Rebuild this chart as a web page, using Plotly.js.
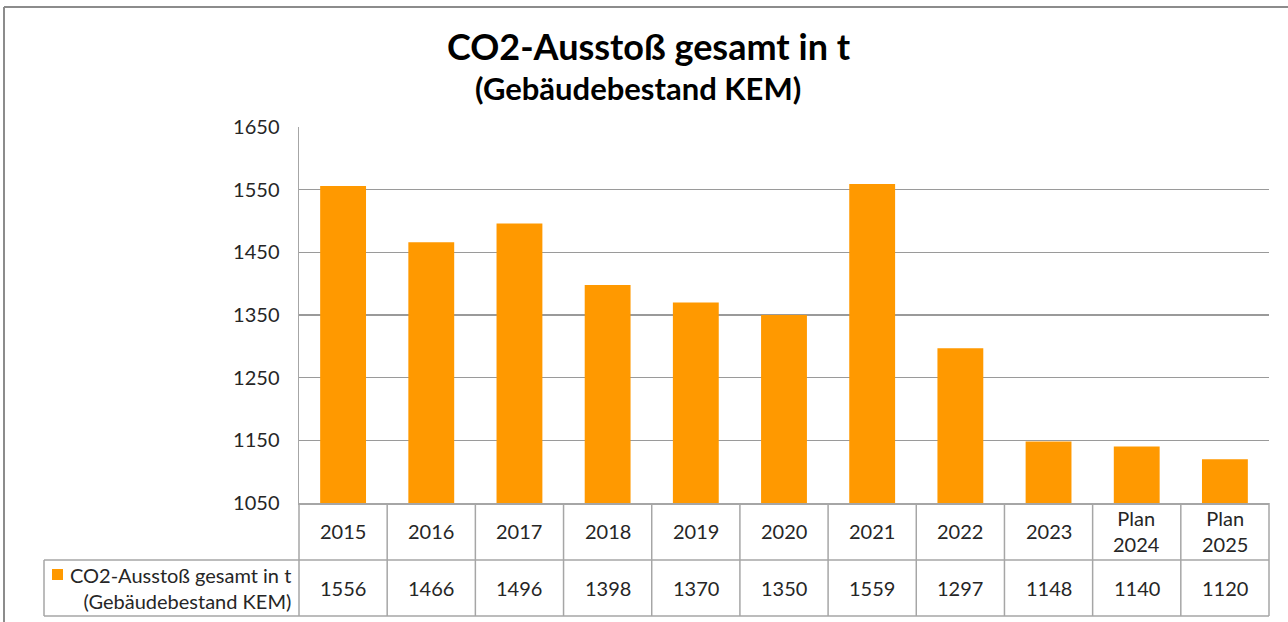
<!DOCTYPE html>
<html>
<head>
<meta charset="utf-8">
<script src="https://cdn.plot.ly/plotly-3.0.1.min.js"></script>
<style>
  html, body { margin: 0; padding: 0; background: #ffffff; }
  #chart { width: 1288px; height: 622px; }
  .plot .bars .point path { filter: drop-shadow(3px 2px 2px rgba(0,0,0,0.28)); }
</style>
</head>
<body>
<div id="chart"></div>
<script>
// ---- data ----
const categories = ['2015', '2016', '2017', '2018', '2019', '2020', '2021', '2022', '2023', 'Plan 2024', 'Plan 2025'];
const headerLabels = ['2015', '2016', '2017', '2018', '2019', '2020', '2021', '2022', '2023', 'Plan<br>2024', 'Plan<br>2025'];
const co2Values = [1556, 1466, 1496, 1398, 1370, 1350, 1559, 1297, 1148, 1140, 1120];
const seriesName = 'CO2-Ausstoß gesamt in t<br>(Gebäudebestand KEM)';
const chartTitle = 'CO2-Ausstoß gesamt in t';
const chartSubtitle = '(Gebäudebestand KEM)';
const yTicks = [1050, 1150, 1250, 1350, 1450, 1550, 1650];

// ---- layout helpers (pixel geometry of the page) ----
const W = 1288, H = 622;
const L = 299, R = 1269, T = 127, B = 503;
const pw = R - L, ph = B - T;
const px = v => (v - L) / pw;          // page x -> paper x
const py = v => (B - v) / ph;          // page y -> paper y

const orange = '#FF9900';
const gridCol = '#9a9a9a';
const tableCol = '#a6a6a6';
const textCol = '#262626';
const font = 'Lato, "Open Sans", sans-serif';

const rowMid = py(560), rowBot = py(616), legendLeft = px(44);
const nCat = categories.length;

const shapes = [];
// table vertical lines at column boundaries
for (let i = 0; i <= nCat; i++) {
  const xp = i / nCat;
  shapes.push({type: 'line', xref: 'paper', yref: 'paper', x0: xp, x1: xp, y0: 0, y1: rowBot,
    line: {color: tableCol, width: 1.5}});
}
// horizontal table lines
shapes.push({type: 'line', xref: 'paper', yref: 'paper', x0: legendLeft, x1: 1, y0: rowMid, y1: rowMid, line: {color: tableCol, width: 1.5}});
shapes.push({type: 'line', xref: 'paper', yref: 'paper', x0: legendLeft, x1: 1, y0: rowBot, y1: rowBot, line: {color: tableCol, width: 1.5}});
shapes.push({type: 'line', xref: 'paper', yref: 'paper', x0: legendLeft, x1: legendLeft, y0: rowMid, y1: rowBot, line: {color: tableCol, width: 1.5}});
// legend key
shapes.push({type: 'rect', xref: 'paper', yref: 'paper', x0: px(52), x1: px(63), y0: py(569), y1: py(580),
  fillcolor: orange, line: {width: 0}});
// chart area border
shapes.push({type: 'line', xref: 'paper', yref: 'paper', x0: px(4), x1: px(W + 5), y0: py(7), y1: py(7), line: {color: '#8c8c8c', width: 2}});
shapes.push({type: 'line', xref: 'paper', yref: 'paper', x0: px(4), x1: px(4), y0: py(7), y1: py(H + 5), line: {color: '#8c8c8c', width: 2}});

const annotations = [];
categories.forEach((c, i) => {
  // category axis position by index (numeric-looking category names would otherwise be read as values)
  annotations.push({xref: 'x', yref: 'paper', x: i, y: py(531), text: headerLabels[i], showarrow: false,
    xanchor: 'center', yanchor: 'middle', align: 'center', font: {family: font, size: 20, color: textCol}});
  annotations.push({xref: 'x', yref: 'paper', x: i, y: py(588), text: String(co2Values[i]), showarrow: false,
    xanchor: 'center', yanchor: 'middle', font: {family: font, size: 20, color: textCol}});
});
annotations.push({xref: 'paper', yref: 'paper', x: px(293), y: py(588), text: seriesName, showarrow: false,
  xanchor: 'right', yanchor: 'middle', align: 'right', font: {family: font, size: 20, color: textCol}});
annotations.push({xref: 'paper', yref: 'paper', x: px(638), y: py(88), text: chartSubtitle, showarrow: false,
  xanchor: 'center', yanchor: 'middle', font: {family: font, size: 31, color: '#000000', weight: 'bold'}});

const trace = {
  type: 'bar', x: categories, y: co2Values, name: 'CO2-Ausstoß gesamt in t (Gebäudebestand KEM)',
  marker: {color: orange, line: {width: 0}}, hoverinfo: 'x+y'
};

const layout = {
  width: W, height: H,
  margin: {l: L, r: W - R, t: T, b: H - B, pad: 0},
  paper_bgcolor: '#ffffff', plot_bgcolor: '#ffffff',
  showlegend: false,
  bargap: 0.48,
  title: {text: chartTitle, x: 648.5 / W, xref: 'container', xanchor: 'center',
    y: 1 - 47 / H, yref: 'container', yanchor: 'middle',
    font: {family: font, size: 36, color: '#000000', weight: 'bold'}},
  xaxis: {type: 'category', categoryorder: 'array', categoryarray: categories,
    range: [-0.5, nCat - 0.5], autorange: false,
    showticklabels: false, ticks: '', showgrid: false, zeroline: false,
    showline: true, linecolor: tableCol, linewidth: 1.5, fixedrange: true},
  yaxis: {range: [1050, 1650], autorange: false, tickvals: yTicks, ticktext: yTicks.map(String),
    showgrid: true, gridcolor: gridCol, gridwidth: 1.5, zeroline: false,
    showline: true, linecolor: tableCol, linewidth: 1.5,
    ticks: 'outside', ticklen: 14, tickcolor: 'rgba(0,0,0,0)',
    tickfont: {family: font, size: 20, color: textCol}, fixedrange: true},
  shapes: shapes,
  annotations: annotations
};

Plotly.newPlot('chart', [trace], layout, {displayModeBar: false, staticPlot: true});
</script>
</body>
</html>
